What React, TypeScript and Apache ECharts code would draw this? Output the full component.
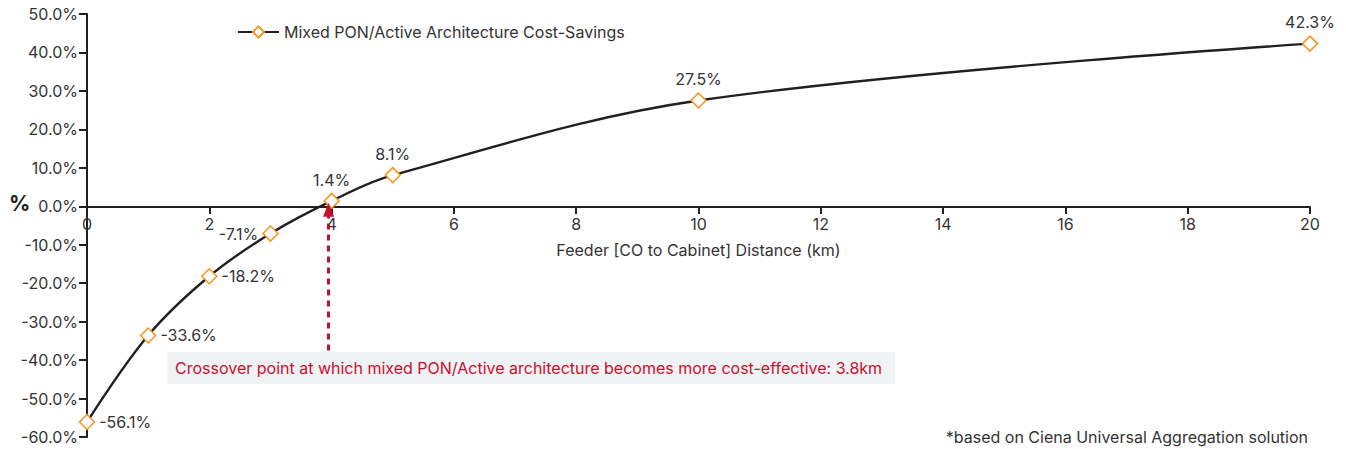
import React, { useEffect, useRef } from "react";
import * as echarts from "echarts";

const distances = [0, 1, 2, 3, 4, 5, 10, 20];
const savings = [-56.1, -33.6, -18.2, -7.1, 1.4, 8.1, 27.5, 42.3];
const labelPositions = ["right", "right", "right", "left", "top", "top", "top", "top"];
const seriesName = "Mixed PON/Active Architecture Cost-Savings";
const xAxisName = "Feeder [CO to Cabinet] Distance (km)";
const crossoverX = 3.95;
const crossoverText = "Crossover point at which mixed PON/Active architecture becomes more cost-effective: 3.8km";
const footnote = "*based on Ciena Universal Aggregation solution";

const FONT = "Inter, 'Noto Sans', sans-serif";
const FS = 16;
const TEXT = "#333333";
const LINE = "#231f20";
const ORANGE = "#f7941d";
const CRIMSON = "#c8102e";

export default function App() {
  const ref = useRef<HTMLDivElement>(null);
  useEffect(() => {
    document.body.style.margin = "0";
    const chart = echarts.init(ref.current!, null, { renderer: "svg" });
    chart.setOption({
      animation: false,
      textStyle: { fontFamily: FONT },
      grid: { left: 87, right: 36, top: 14, bottom: 12, containLabel: false, outerBoundsMode: "none" },
      legend: {
        left: 232,
        top: 19,
        itemWidth: 41,
        itemHeight: 14,
        itemGap: 8,
        textStyle: { fontSize: FS, color: TEXT, fontFamily: FONT },
        data: [seriesName],
      },
      xAxis: {
        type: "value",
        min: 0,
        max: 20,
        interval: 2,
        offset: -230,
        name: xAxisName,
        nameLocation: "middle",
        nameGap: 35,
        nameTextStyle: { fontSize: FS, color: TEXT, fontFamily: FONT },
        axisLine: { onZero: false, lineStyle: { color: LINE, width: 2 } },
        axisTick: { show: true, length: 7, lineStyle: { color: LINE, width: 2 } },
        axisLabel: { fontSize: FS, color: TEXT, margin: 9, fontFamily: FONT },
        splitLine: { show: false },
      },
      yAxis: {
        type: "value",
        min: -60,
        max: 50,
        interval: 10,
        axisLine: { show: true, lineStyle: { color: LINE, width: 2 } },
        axisTick: { show: true, length: 8, lineStyle: { color: LINE, width: 2 } },
        axisLabel: {
          fontSize: FS,
          color: TEXT,
          margin: 9,
          fontFamily: FONT,
          formatter: (v: number) => v.toFixed(1) + "%",
        },
        splitLine: { show: false },
      },
      series: [
        {
          name: seriesName,
          type: "line",
          smooth: 0.35,
          symbol: "diamond",
          symbolSize: 15,
          showAllSymbol: true,
          lineStyle: { color: LINE, width: 2.4 },
          itemStyle: { color: "#ffffff", borderColor: ORANGE, borderWidth: 1.5 },
          data: distances.map((d, i) => ({
            value: [d, savings[i]],
            label: {
              show: true,
              position: labelPositions[i],
              distance: labelPositions[i] === "top" ? 5 : 4,
              formatter: savings[i].toFixed(1) + "%",
              fontSize: FS,
              color: TEXT,
              fontFamily: FONT,
            },
          })),
          markLine: {
            silent: true,
            symbol: ["none", "triangle"],
            symbolSize: [11, 14],
            label: { show: false },
            lineStyle: { color: CRIMSON, width: 3, type: [6, 5] },
            data: [[{ coord: [crossoverX, -37.5] }, { coord: [crossoverX, -0.9] }]],
          },
          z: 3,
        },
      ],
      graphic: [
        {
          type: "text",
          left: 9,
          top: 193,
          style: { text: "%", fontSize: 21, fontWeight: "bold", fill: "#231f20", fontFamily: FONT },
        },
        {
          type: "rect",
          shape: { x: 167, y: 352, width: 728, height: 32 },
          style: { fill: "#f1f2f4" },
          z: 1,
        },
        {
          type: "text",
          x: 175,
          y: 368,
          style: {
            text: crossoverText,
            fontSize: FS,
            fill: CRIMSON,
            fontFamily: FONT,
            verticalAlign: "middle",
          },
          z: 2,
        },
        {
          type: "text",
          x: 1308,
          y: 437,
          style: {
            text: footnote,
            fontSize: FS,
            fill: TEXT,
            fontFamily: FONT,
            align: "right",
            verticalAlign: "middle",
          },
        },
      ],
    });
    return () => chart.dispose();
  }, []);
  return <div ref={ref} style={{ width: 1346, height: 449 }} />;
}
